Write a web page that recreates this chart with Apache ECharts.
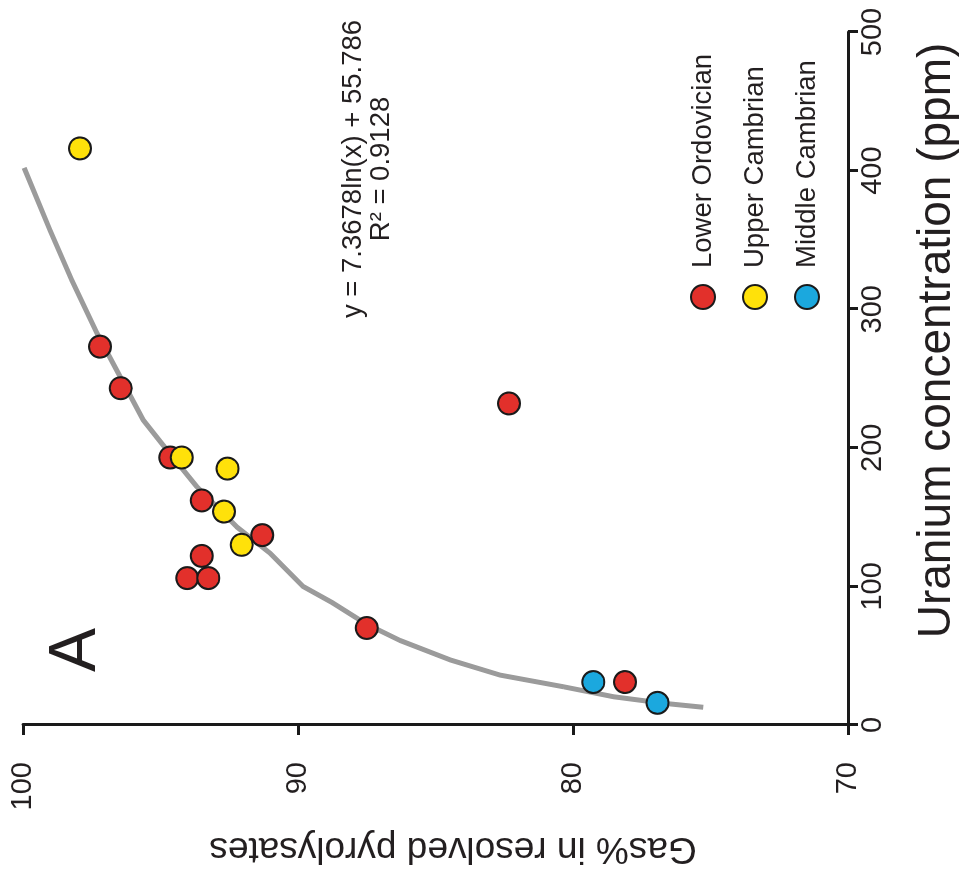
<!DOCTYPE html>
<html>
<head>
<meta charset="utf-8">
<script src="https://cdn.jsdelivr.net/npm/echarts@6/dist/echarts.min.js"></script>
<style>
    html, body { margin: 0; padding: 0; background: #fff; width: 959px; height: 884px; overflow: hidden; }
    /* chart is drawn upright, then turned a quarter turn counter-clockwise like the figure */
    #chart { position: absolute; left: 0; top: 884px; width: 884px; height: 959px;
             transform-origin: 0 0; transform: rotate(-90deg); }
</style>
</head>
<body>
<div id="chart"></div>
<script>
    // Lower Ordovician samples
    const loUranium = [273, 243, 193, 162, 137, 122, 106, 106, 70, 232, 31]
    const loGas = [97.2, 96.45, 94.65, 93.5, 91.3, 93.5, 94.03, 93.26, 87.5, 82.33, 78.11]
    // Upper Cambrian samples
    const ucUranium = [416, 193, 185, 154, 130]
    const ucGas = [97.93, 94.23, 92.56, 92.69, 92.05]
    // Middle Cambrian samples
    const mcUranium = [31, 16]
    const mcGas = [79.26, 76.93]
    // grey fit curve
    const fitUranium = [402, 357, 321, 283, 220, 202, 172, 143, 124, 100, 88, 73, 61, 47, 36, 27.6, 20.4, 15.7, 12.8]
    const fitGas = [99.96, 99.02, 98.23, 97.32, 95.63, 94.91, 93.68, 92.23, 91.02, 89.82, 88.73, 87.53, 86.29, 84.47, 82.65, 80.35, 78.53, 76.72, 75.26]

    const uraniumTicks = [0, 500, 100]   // min, max, step
    const gasTicks = [70, 100, 10]

    const font = 'Liberation Sans, Arial, Helvetica, sans-serif'
    const ink = '#231f20'

    function pairs(xs, ys) {
        return xs.map((x, i) => [x, ys[i]])
    }

    function dots(name, color, xs, ys) {
        return {
            name: name,
            type: 'scatter',
            symbol: 'circle',
            symbolSize: 22,
            z: 3,
            itemStyle: { color: color, borderColor: '#1a1a1a', borderWidth: 2, opacity: 1 },
            data: pairs(xs, ys)
        }
    }

    const chart = echarts.init(document.getElementById('chart'))
    chart.setOption({
        animation: false,
        backgroundColor: '#fff',
        textStyle: { fontFamily: font, color: ink },
        grid: { left: 159, right: 32, top: 23, bottom: 111, outerBoundsMode: 'none' },
        legend: {
            orient: 'vertical',
            left: 574,
            top: 689,
            padding: 0,
            itemWidth: 24,
            itemHeight: 24,
            itemGap: 24,
            icon: 'circle',
            data: ['Lower Ordovician', 'Upper Cambrian', 'Middle Cambrian'],
            itemStyle: { borderColor: '#1a1a1a', borderWidth: 2 },
            textStyle: { fontFamily: font, fontSize: 27.5, color: ink, lineHeight: 24, padding: [0, 0, 0, 12] }
        },
        xAxis: {
            type: 'value',
            min: uraniumTicks[0],
            max: uraniumTicks[1],
            interval: uraniumTicks[2],
            name: 'Uranium concentration (ppm)',
            nameLocation: 'middle',
            nameGap: 66,
            nameTextStyle: { fontFamily: font, fontSize: 46, color: ink, padding: [0, 0, 0, 76] },
            axisLine: { show: true, lineStyle: { color: '#1a1a1a', width: 3 } },
            axisTick: { show: true, length: 10, lineStyle: { color: '#1a1a1a', width: 3 } },
            axisLabel: { fontFamily: font, fontSize: 29, color: ink, margin: 10 },
            splitLine: { show: false }
        },
        yAxis: {
            type: 'value',
            min: gasTicks[0],
            max: gasTicks[1],
            interval: gasTicks[2],
            name: 'Gas% in resolved pyrolysates',
            nameLocation: 'middle',
            nameGap: 105,
            nameTextStyle: { fontFamily: font, fontSize: 37, color: ink, padding: [0, 35, 0, 0] },
            axisLine: { show: true, lineStyle: { color: '#1a1a1a', width: 3 } },
            axisTick: { show: true, length: 10, lineStyle: { color: '#1a1a1a', width: 3 } },
            axisLabel: { fontFamily: font, fontSize: 29, color: ink, margin: 37 },
            splitLine: { show: false }
        },
        graphic: [
            {
                type: 'text',
                style: { text: 'A', fontFamily: font, fontSize: 66, fill: ink, x: 234, y: 77, textAlign: 'center', textVerticalAlign: 'middle' }
            },
            {
                type: 'text',
                style: { text: 'y = 7.3678ln(x) + 55.786', fontFamily: font, fontSize: 27.5, fill: ink, x: 715, y: 353, textAlign: 'center', textVerticalAlign: 'middle' }
            },
            {
                type: 'text',
                style: { text: 'R\u00b2 = 0.9128', fontFamily: font, fontSize: 27.5, fill: ink, x: 715, y: 381, textAlign: 'center', textVerticalAlign: 'middle' }
            }
        ],
        series: [
            {
                name: 'fit',
                type: 'line',
                showSymbol: false,
                symbol: 'none',
                smooth: false,
                silent: true,
                z: 1,
                lineStyle: { color: '#9b9b9b', width: 5, cap: 'butt' },
                data: pairs(fitUranium, fitGas)
            },
            dots('Lower Ordovician', '#e2302b', loUranium, loGas),
            dots('Upper Cambrian', '#ffe10a', ucUranium, ucGas),
            dots('Middle Cambrian', '#1ba8de', mcUranium, mcGas)
        ]
    })
</script>
</body>
</html>
